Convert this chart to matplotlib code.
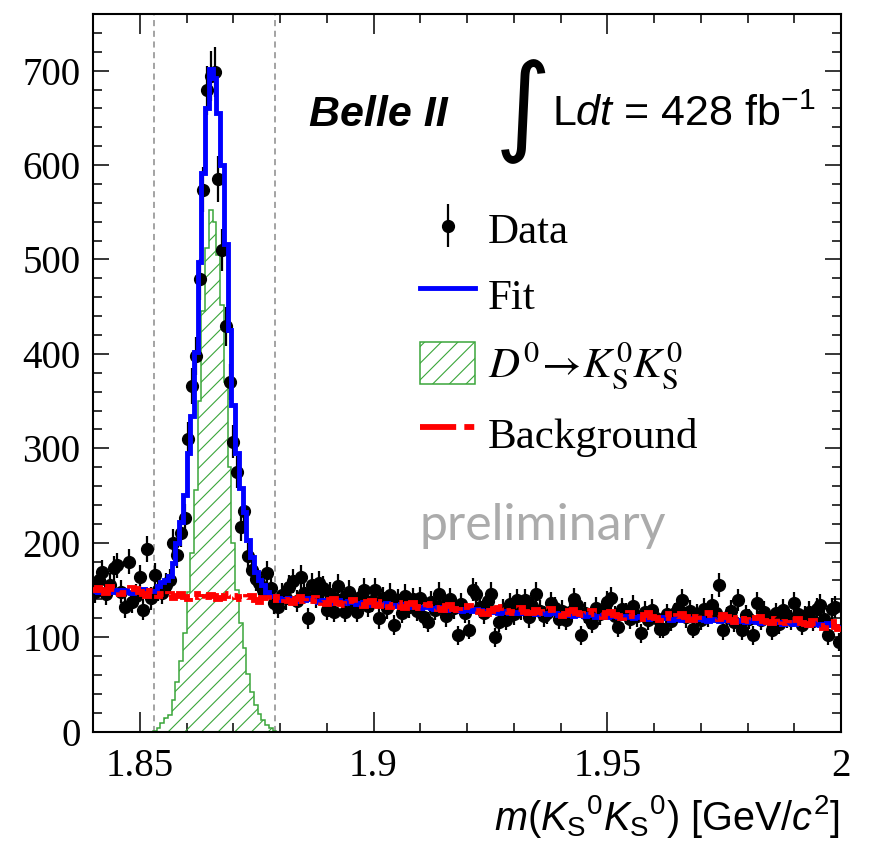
import numpy as np
import matplotlib
matplotlib.use("Agg")
import matplotlib.pyplot as plt
from matplotlib.font_manager import FontProperties
from matplotlib.ticker import MultipleLocator, FixedLocator, FixedFormatter

plt.rcParams['mathtext.fontset'] = 'custom'
plt.rcParams['mathtext.rm'] = 'Liberation Sans'
plt.rcParams['mathtext.it'] = 'Liberation Sans:italic'
plt.rcParams['mathtext.bf'] = 'Liberation Sans:bold'
plt.rcParams['hatch.linewidth'] = 0.8

# ---------------- data ----------------
x_min, x_max, n_bins = 1.84, 2.0, 200

data = [
    148, 160, 169, 146, 155, 173, 176, 148, 132, 180,
    137, 144, 164, 129, 193, 141, 166, 150, 147, 155,
    160, 200, 187, 210, 226, 310, 366, 398, 479, 574,
    679, 694, 699, 585, 510, 429, 370, 307, 275, 217,
    234, 186, 171, 162, 157, 150, 168, 152, 136, 132,
    145, 141, 153, 159, 138, 164, 147, 120, 155, 143,
    157, 152, 129, 146, 127, 154, 140, 127, 148, 135,
    127, 142, 150, 133, 138, 150, 120, 141, 131, 145,
    113, 139, 126, 144, 132, 140, 128, 141, 121, 116,
    137, 129, 146, 133, 122, 140, 131, 102, 135, 126,
    108, 150, 146, 132, 125, 138, 146, 100, 116, 129,
    118, 135, 124, 139, 130, 139, 121, 133, 146, 128,
    122, 125, 136, 131, 119, 128, 118, 127, 140, 134,
    102, 126, 120, 115, 131, 124, 129, 137, 141, 122,
    111, 130, 125, 119, 133, 122, 104, 127, 118, 129,
    120, 109, 109, 124, 117, 125, 131, 139, 121, 128,
    109, 124, 118, 130, 122, 134, 126, 155, 107, 121,
    128, 116, 139, 107, 123, 119, 102, 136, 118, 127,
    120, 107, 125, 114, 129, 121, 118, 136, 124, 113,
    122, 127, 117, 130, 134, 119, 102, 130, 132, 95,
]

signal = [
    0, 0, 0, 0, 0, 0, 0, 0, 0, 0,
    0, 0, 0, 0, 0, 0, 1, 4, 9, 14,
    18, 33, 52, 75, 104, 148, 189, 256, 350, 445,
    512, 552, 540, 505, 452, 370, 280, 200, 150, 115,
    88, 61, 42, 28, 19, 12, 7, 4, 1, 0,
] + [0] * 150

background = [
    150, 152, 150, 147, 153, 151, 149, 146, 147, 150,
    152, 151, 148, 146, 144, 149, 147, 143, 146, 143,
    146, 141, 144, 146, 142, 140, 145, 146, 142, 139,
    142, 145, 143, 140, 141, 144, 146, 143, 142, 140,
    139, 142, 143, 139, 137, 141, 141, 137, 139, 142,
    143, 139, 138, 136, 140, 142, 138, 136, 138, 141,
    139, 136, 135, 139, 140, 136, 135, 134, 138, 139,
    135, 134, 133, 137, 138, 134, 133, 137, 135, 132,
    134, 136, 132, 131, 135, 136, 132, 131, 130, 134,
    135, 131, 130, 129, 133, 134, 130, 129, 128, 132,
    133, 129, 128, 127, 124, 124, 128, 130, 131, 132,
    128, 127, 126, 130, 131, 127, 126, 125, 129, 127,
    125, 129, 130, 126, 125, 122, 124, 128, 129, 125,
    124, 123, 127, 128, 124, 123, 121, 125, 127, 123,
    122, 120, 124, 126, 122, 121, 119, 123, 125, 121,
    120, 118, 122, 124, 120, 119, 122, 124, 121, 118,
    118, 121, 123, 126, 126, 123, 120, 119, 123, 121,
    118, 116, 120, 122, 118, 117, 116, 120, 121, 117,
    116, 115, 119, 120, 116, 115, 114, 118, 119, 115,
    114, 113, 117, 115, 112, 110, 114, 116, 111, 109,
]

fit_background = [
    149, 148, 150, 151, 149, 148, 150, 149, 150, 148,
    147, 149, 150, 151, 150, 149, 148, 150, 149, 147,
    147, 146, 148, 147, 146, 147, 145, 146, 147, 147,
    148, 150, 152, 150, 148, 146, 145, 146, 145, 143,
    144, 142, 143, 141, 142, 143, 141, 140, 142, 141,
    139, 140, 141, 139, 138, 140, 139, 141, 140, 138,
    137, 139, 138, 136, 138, 139, 137, 136, 138, 137,
    135, 136, 137, 135, 134, 136, 135, 134, 136, 134,
    133, 134, 135, 133, 132, 134, 133, 131, 132, 133,
    131, 130, 132, 131, 129, 130, 131, 129, 128, 130,
    129, 128, 130, 129, 127, 128, 129, 127, 126, 128,
    127, 125, 126, 127, 125, 126, 127, 125, 124, 126,
    125, 124, 126, 125, 123, 124, 125, 123, 122, 124,
    123, 122, 124, 123, 121, 122, 123, 121, 122, 123,
    121, 120, 122, 121, 120, 121, 122, 120, 119, 121,
    120, 119, 121, 120, 118, 119, 120, 118, 119, 120,
    118, 119, 120, 118, 117, 119, 118, 117, 118, 119,
    117, 116, 118, 117, 116, 117, 118, 116, 115, 117,
    116, 115, 117, 116, 114, 115, 116, 114, 115, 116,
    114, 113, 115, 114, 113, 114, 115, 113, 112, 111,
]

signal_window = [1.853, 1.879]
x_ticks = [1.85, 1.9, 1.95, 2.0]
x_tick_labels = ["1.85", "1.9", "1.95", "2"]
y_ticks = [0, 100, 200, 300, 400, 500, 600, 700]
y_tick_labels = ["0", "100", "200", "300", "400", "500", "600", "700"]

# ---------------- plot ----------------
W, H = 870, 841
fig = plt.figure(figsize=(W / 100, H / 100), dpi=100)
ax_left, ax_right, ax_top, ax_bottom = 93, 841, 14, 731.5
ax = fig.add_axes([ax_left / W, 1 - ax_bottom / H,
                   (ax_right - ax_left) / W, (ax_bottom - ax_top) / H])

edges = np.linspace(x_min, x_max, n_bins + 1)
centers = 0.5 * (edges[:-1] + edges[1:])
data_a = np.array(data, dtype=float)
sig_a = np.array(signal, dtype=float)
bkg_a = np.array(background, dtype=float)
fit_a = sig_a + np.array(fit_background, dtype=float)

green = '#3aa63a'
for xv in signal_window:
    ax.axvline(xv, color='#8a8a8a', lw=1.1, ls=(0, (4, 3)), zorder=1)

eb = ax.errorbar(centers, data_a, yerr=np.sqrt(data_a), fmt='o', color='black',
                 ms=8.5, elinewidth=1.6, capsize=0, zorder=3)
sig_patch = ax.stairs(sig_a, edges, fill=True, facecolor='none', edgecolor=green,
                      hatch='//', lw=1.1, zorder=2)
fit_line = ax.stairs(fit_a, edges, baseline=None, color='blue', lw=3.5, zorder=4)
bkg_line = ax.stairs(bkg_a, edges, baseline=None, color='red', lw=4.2,
                     ls=(0, (6.2, 1.4, 1.7, 1.4)), zorder=5)

ax.set_xlim(x_min, x_max)
ax.set_ylim(0, 760)

ax.xaxis.set_major_locator(FixedLocator(x_ticks))
ax.xaxis.set_major_formatter(FixedFormatter(x_tick_labels))
ax.xaxis.set_minor_locator(MultipleLocator(0.01))
ax.yaxis.set_major_locator(FixedLocator(y_ticks))
ax.yaxis.set_major_formatter(FixedFormatter(y_tick_labels))
ax.yaxis.set_minor_locator(MultipleLocator(20))

ax.tick_params(which='both', direction='in', top=True, right=True, width=1.1, color='black')
ax.tick_params(axis='x', which='major', length=14.5, pad=12)
ax.tick_params(axis='x', which='minor', length=6.5)
ax.tick_params(axis='y', which='major', length=11.5, pad=9)
ax.tick_params(axis='y', which='minor', length=6.5)
for lab in ax.get_xticklabels() + ax.get_yticklabels():
    lab.set_fontfamily('Liberation Serif')
    lab.set_fontsize(28)
for sp in ax.spines.values():
    sp.set_linewidth(1.5)

# x label
fig.text(840 / W, 1 - 830 / H,
         r"$m(K_{\mathrm{S}}{}^{\mathit{0}}K_{\mathrm{S}}{}^{\mathit{0}})$ [GeV/$c^{2}$]",
         fontsize=28.5, family='Liberation Sans', ha='right', va='baseline')

# header
fig.text(309 / W, 1 - 126 / H, 'Belle II', fontsize=31, family='Liberation Sans',
         weight='bold', style='italic', ha='left', va='baseline')
fig.text(523 / W, 1 - 111 / H, '\u222b', fontsize=78, family='DejaVu Sans',
         ha='center', va='center')
fig.text(552 / W, 1 - 126 / H, r'L$\mathit{dt}$ = 428 fb$^{-1}$', fontsize=31,
         family='Liberation Sans', ha='left', va='baseline')

# preliminary
fig.text(420 / W, 1 - 540 / H, 'preliminary', fontsize=36, family='Lato',
         color='#ababab', ha='left', va='baseline')

# legend
leg_font = FontProperties(family='Liberation Serif', size=31, math_fontfamily='stix')
handles = [eb, fit_line, sig_patch, bkg_line]
labels = ['Data', 'Fit', r'$D^{0}\!\rightarrow\!K^{0}_{\mathrm{S}}K^{0}_{\mathrm{S}}$', 'Background']
ax.legend(handles, labels, loc='upper left', bbox_to_anchor=(420 / W, 1 - 208 / H),
          bbox_transform=fig.transFigure, frameon=False, prop=leg_font,
          borderpad=0, borderaxespad=0, handlelength=1.28, handleheight=1.1,
          handletextpad=0.3, labelspacing=0.5)

fig.savefig('out.png', dpi=100)
